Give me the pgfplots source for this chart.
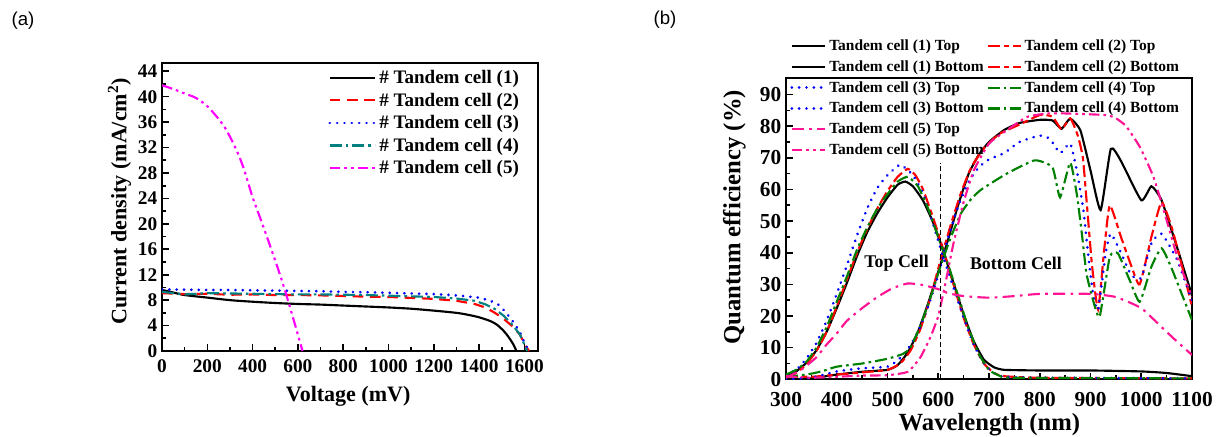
\documentclass[border=0pt]{standalone}
\usepackage{fontspec}
\setmainfont{Liberation Serif}
\newfontfamily\arial{Liberation Sans}
\usepackage{pgfplots}
\pgfplotsset{compat=1.18}

\definecolor{cteal}{RGB}{0,128,128}
\definecolor{cmag}{RGB}{255,0,255}
\definecolor{cgreen}{RGB}{0,128,0}
\definecolor{cpink}{RGB}{255,20,147}

\pgfplotsset{
  qeaxis/.style={
    scale only axis,
    axis line style={line width=1.5pt},
    tick style={line width=1.2pt, black},
    tick align=inside,
    xtick pos=bottom, ytick pos=left,
    major tick length=5pt, minor tick length=3pt,
    minor x tick num=1, minor y tick num=1,
    /pgf/number format/assume math mode=true,
    /pgf/number format/1000 sep={},
    every axis plot/.append style={line width=1.6pt},
    legend cell align=left,
  },
  solidl/.style={black, solid},
  dashl/.style={red, dash pattern=on 8pt off 5pt},
  dotl/.style={blue, line cap=round, dash pattern=on 0.01pt off 5.5pt, line width=2.2pt},
  dashdotl/.style={dash pattern=on 9pt off 3pt on 2pt off 3pt},
  dashdotdotl/.style={dash pattern=on 8pt off 3pt on 2pt off 3pt on 2pt off 3pt},
}

\begin{document}
\begin{tikzpicture}
\useasboundingbox (0,0) rectangle (915pt,327pt);

\node[font=\arial\fontsize{14}{14}\selectfont] at (17.25pt,311.25pt) {(a)};
\node[font=\arial\fontsize{14}{14}\selectfont] at (498.75pt,312pt) {(b)};

% (a) J-V curves
\begin{axis}[qeaxis,
  at={(121.5pt,63.75pt)}, anchor=south west,
  width=282pt, height=216pt,
  xmin=0, xmax=1660, ymin=0, ymax=45.3,
  xtick={0,200,...,1600}, ytick={0,4,...,44},
  ticklabel style={font=\fontsize{14.5}{14.5}\selectfont\bfseries},
  xticklabel style={yshift=-3pt},
  xlabel={Voltage (mV)},
  ylabel={Current density (mA/cm\textsuperscript{2})},
  label style={font=\fontsize{16.5}{16.5}\selectfont\bfseries},
  xlabel style={at={(axis description cs:0.495,-0.159)}, anchor=center},
  ylabel style={at={(axis description cs:-0.113,0.52)}, anchor=center, rotate=0},
  legend image code/.code={\draw[#1] (0pt,0pt) -- (34pt,0pt);},
  legend style={at={(axis description cs:0.957,0.985)}, anchor=north east,
    draw=none, fill=none, inner sep=0pt, row sep=1.5pt,
    font=\fontsize{14.3}{16}\selectfont\bfseries},
]
\addplot[solidl, smooth] coordinates {
  (0,9.6) (50,9.2) (100,8.8) (200,8.4) (300,8.0) (400,7.75) (500,7.55) (600,7.4)
  (700,7.3) (800,7.15) (900,7.0) (1000,6.85) (1100,6.65) (1200,6.35) (1300,6.0)
  (1350,5.7) (1400,5.3) (1450,4.7) (1480,4.1) (1510,3.1) (1530,2.2) (1550,1.1) (1565,0)
};
\addlegendentry{\# Tandem cell (1)}
\addplot[dashl] coordinates {
  (0,9.1) (100,8.95) (200,9.0) (300,8.85) (400,8.9) (500,8.8) (600,8.8) (700,8.75)
  (800,8.65) (900,8.55) (1000,8.5) (1100,8.35) (1200,8.2) (1300,7.9) (1380,7.4)
  (1430,6.8) (1470,6.0) (1510,5.0) (1550,3.8) (1580,2.6) (1600,1.2) (1620,0)
};
\addlegendentry{\# Tandem cell (2)}
\addplot[dotl] coordinates {
  (0,9.7) (100,9.65) (200,9.6) (300,9.6) (400,9.55) (500,9.5) (600,9.45) (700,9.4)
  (800,9.3) (900,9.25) (1000,9.15) (1100,9.05) (1200,8.95) (1300,8.75) (1400,8.4)
  (1450,7.9) (1490,7.2) (1520,6.0) (1550,4.6) (1580,3.0) (1600,1.3) (1620,0)
};
\addlegendentry{\# Tandem cell (3)}
\addplot[cteal, dashdotl] coordinates {
  (0,9.3) (50,9.1) (100,8.9) (150,9.0) (200,9.1) (300,9.05) (400,9.0) (500,8.95)
  (600,8.9) (700,8.9) (800,8.85) (900,8.8) (1000,8.7) (1100,8.6) (1200,8.5)
  (1300,8.25) (1380,7.9) (1430,7.3) (1470,6.6) (1510,5.5) (1550,4.0) (1580,2.6)
  (1600,1.0) (1612,0)
};
\addlegendentry{\# Tandem cell (4)}
\addplot[cmag, dashdotdotl, smooth] coordinates {
  (0,41.8) (50,41.2) (100,40.5) (150,39.8) (200,38.5) (250,36.5) (280,35) (300,33.7)
  (330,31.5) (360,28.8) (400,24.2) (450,19.3) (500,14.2) (530,11) (560,7.5)
  (590,3.8) (610,1.3) (620,0)
};
\addlegendentry{\# Tandem cell (5)}
\end{axis}

% (b) quantum efficiency
\begin{axis}[qeaxis,
  at={(589.5pt,42.5pt)}, anchor=south west,
  width=304.5pt, height=226.2pt,
  xmin=300, xmax=1100, ymin=0, ymax=95.3,
  xtick={300,400,...,1100}, ytick={0,10,...,90},
  ticklabel style={font=\fontsize{16}{16}\selectfont\bfseries},
  xticklabel style={yshift=-6pt},
  xlabel={Wavelength (nm)},
  ylabel={Quantum efficiency (\%)},
  label style={font=\fontsize{18.5}{18.5}\selectfont\bfseries},
  xlabel style={at={(axis description cs:0.501,-0.15)}, anchor=center},
  ylabel style={at={(axis description cs:-0.127,0.537)}, anchor=center},
  every axis plot/.append style={smooth, tension=0.3},
  legend columns=2,
  legend image code/.code={\draw[#1] (0pt,0pt) -- (25pt,0pt);},
  legend style={at={(axis description cs:0.01,1.135)}, anchor=north west,
    draw=none, fill=none, inner sep=0pt, row sep=2pt,
    font=\fontsize{11.6}{13}\selectfont\bfseries},
]
\addplot[solidl] coordinates {
  (300,1) (320,2.5) (340,5.2) (360,9.2) (380,15) (400,22.5) (420,30.5) (440,39)
  (460,46.5) (480,52.5) (500,57.5) (520,61.5) (535,62.5) (550,61) (570,56.5)
  (590,49.5) (610,40.5) (630,30.5) (650,20.5) (670,12) (690,6.2) (710,3.8) (730,3)
  (800,2.8) (900,2.8) (1000,2.5) (1050,2) (1100,1)
};
\addlegendentry{Tandem cell (1) Top}
\addplot[red, dash pattern=on 9pt off 3pt on 4pt off 3pt] coordinates {
  (300,0.5) (320,2) (340,4.8) (360,9) (380,15) (400,23) (420,31.5) (440,40)
  (460,47.5) (480,54) (500,59.5) (520,64) (540,66.5) (555,64.5) (570,60) (590,51)
  (610,41) (630,30) (650,19.5) (670,11) (690,5) (710,2) (730,1) (800,0.5) (1100,0.3)
};
\addlegendentry{Tandem cell (2) Top}
\addplot[solidl] coordinates {
  (300,0) (350,0.3) (400,1.5) (450,2.4) (500,3) (520,4.5) (540,8.5) (560,15)
  (580,24) (600,34) (620,44.5) (640,55.5) (660,65) (680,71) (700,75) (730,78.8)
  (760,81) (800,82) (825,81.8) (843,79.2) (860,82.4) (880,78.7) (900,66) (920,53.5)
  (940,72.8) (960,69) (1000,56.6) (1020,61) (1040,56.6) (1070,42) (1100,26.5)
};
\addlegendentry{Tandem cell (1) Bottom}
\addplot[red, dash pattern=on 9pt off 3pt on 4pt off 3pt] coordinates {
  (300,1) (350,0.8) (400,1.5) (450,2.2) (500,3) (525,5) (545,9) (565,16) (585,26)
  (605,38) (625,49) (645,59) (665,67) (690,73) (720,77.5) (760,80.5) (800,83.5)
  (825,83) (843,79) (860,82.5) (875,77) (885,70) (893,55) (903,36) (915,22)
  (927,41) (938,55) (960,45) (980,36) (997,30) (1020,45) (1040,56) (1060,48)
  (1080,36) (1100,23)
};
\addlegendentry{Tandem cell (2) Bottom}
\addplot[dotl] coordinates {
  (300,1.5) (320,3) (340,6.5) (360,11.5) (380,18.5) (400,27) (420,36) (440,45.5)
  (460,54) (480,60.5) (500,64.5) (525,67.8) (550,64.5) (570,58.7) (590,49)
  (610,38.5) (630,29) (650,19.5) (670,11) (690,5) (710,2) (730,0.8) (800,0.5) (1100,0.3)
};
\addlegendentry{Tandem cell (3) Top}
\addplot[cgreen, dashdotl] coordinates {
  (300,1.5) (320,3) (340,5.5) (360,10) (380,16.5) (400,24.5) (420,32.5) (440,41)
  (460,48) (480,54) (500,58.5) (520,62.5) (540,64) (560,61) (580,54) (600,45)
  (620,36) (640,26) (660,16) (680,8) (700,3) (720,1.2) (750,0.5) (1100,0.3)
};
\addlegendentry{Tandem cell (4) Top}
\addplot[dotl] coordinates {
  (300,0) (350,0.5) (400,2.5) (450,3.5) (500,4) (520,6) (540,9.5) (560,15) (580,23)
  (600,33) (620,45) (640,55) (660,62.5) (680,67) (700,69.5) (730,71.5) (760,75)
  (800,77) (820,76) (840,71.5) (860,74.5) (873,66) (886,53.5) (895,40) (905,27)
  (915,22) (930,40) (940,46) (960,40) (980,33) (1000,32) (1020,43) (1040,46)
  (1070,38) (1100,25)
};
\addlegendentry{Tandem cell (3) Bottom}
\addplot[cgreen, dashdotl] coordinates {
  (300,0.8) (340,1.5) (370,2.5) (400,4) (450,5) (500,6.5) (530,8) (545,10) (565,17)
  (585,26) (605,36) (625,45) (645,52.5) (665,57) (685,60) (735,65) (790,69.2)
  (825,67) (840,57.5) (860,68.5) (873,58.5) (883,46) (892,33.5) (905,25) (918,19.8)
  (938,38.7) (954,39.8) (977,31.4) (997,24.5) (1020,35.6) (1040,41.4) (1060,35)
  (1100,18.7)
};
\addlegendentry{Tandem cell (4) Bottom}
\addplot[cpink, dash pattern=on 9pt off 4pt on 2pt off 4pt] coordinates {
  (300,0.5) (330,3) (360,7) (380,11) (400,14.5) (420,18.5) (450,22.5) (480,26)
  (510,28.8) (540,30.3) (570,29.8) (600,28.5) (620,27.2) (650,26.3) (700,25.8)
  (750,26.3) (800,27) (900,27) (950,26) (1000,22.5) (1040,16.5) (1070,12) (1100,7.7)
};
\addlegendentry{Tandem cell (5) Top}
\addlegendimage{empty legend}
\addlegendentry{}
\addplot[cpink, dashdotdotl] coordinates {
  (300,1) (350,0.5) (400,0.8) (450,1.2) (500,1.3) (540,2.4) (565,7) (585,13.5)
  (600,20) (615,31) (630,43) (650,56) (670,66) (700,74.5) (735,78.7) (775,82.9)
  (815,84) (855,84) (930,83.5) (950,82.5) (970,80) (997,73.5) (1024,64) (1048,51.4)
  (1071,38.7) (1100,26)
};
\addlegendentry{Tandem cell (5) Bottom}
\addplot[forget plot, black, line width=0.8pt, dash pattern=on 4pt off 2pt, sharp plot]
  coordinates {(605,0) (605,68.3)};
\node[font=\fontsize{13.4}{13.4}\selectfont\bfseries] at (axis cs:518,36.7) {Top Cell};
\node[font=\fontsize{13.4}{13.4}\selectfont\bfseries] at (axis cs:753,36.7) {Bottom Cell};
\end{axis}
\end{tikzpicture}
\end{document}
